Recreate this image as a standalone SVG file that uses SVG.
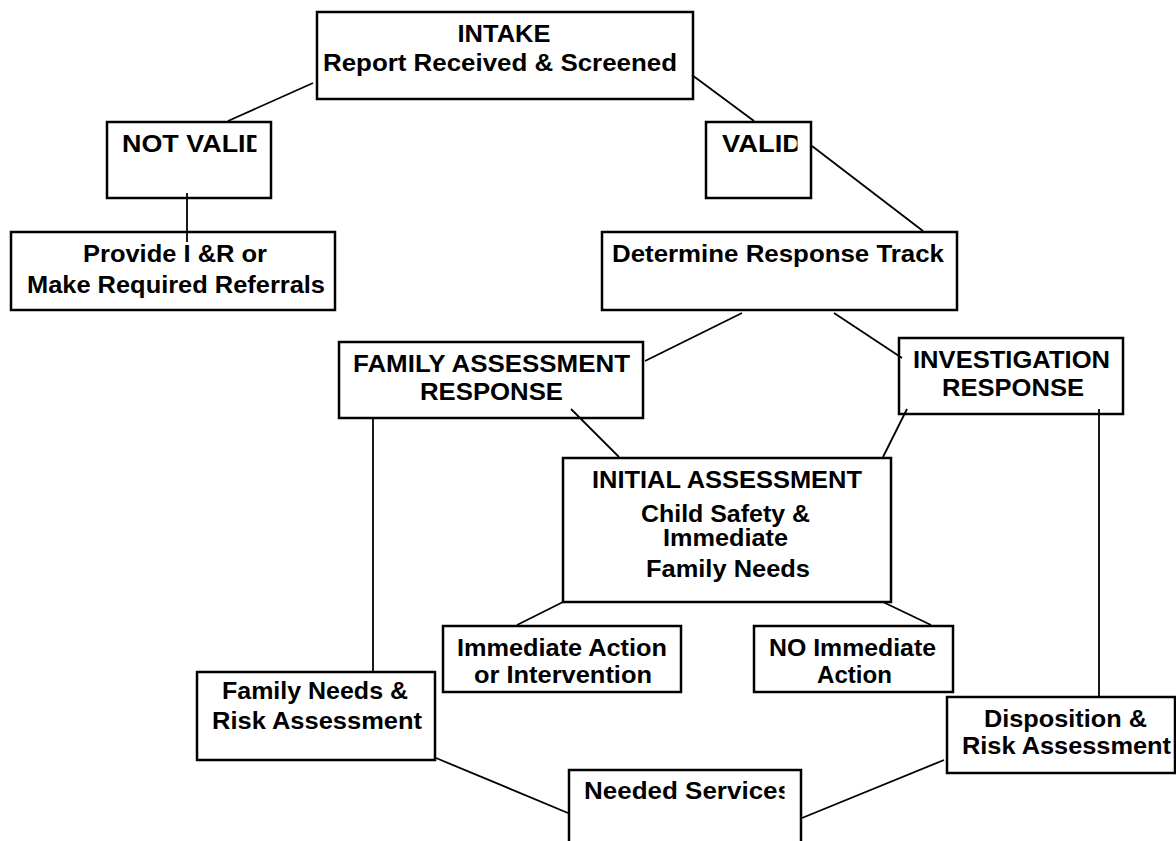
<svg xmlns="http://www.w3.org/2000/svg" width="1176" height="841" viewBox="0 0 1176 841">
<style>
.box{fill:#fff;stroke:#000;stroke-width:2.5}
.t{font-family:"Liberation Sans",Arial,sans-serif;font-weight:bold;font-size:23.5px;fill:#000}
.c{text-anchor:middle}
#connectors line{stroke:#000;stroke-width:1.8}
</style>
<defs>
<clipPath id="clipNV"><rect x="100" y="120" width="156.5" height="60"/></clipPath>
<clipPath id="clipV"><rect x="700" y="120" width="97.5" height="60"/></clipPath>
<clipPath id="clipNS"><rect x="570" y="772" width="214.5" height="60"/></clipPath>
</defs>
<g id="intake"><rect class="box" x="317" y="12" width="376" height="87"/>
<text class="t c" x="504" y="42" textLength="93" lengthAdjust="spacingAndGlyphs">INTAKE</text>
<text class="t" x="323" y="71" textLength="354" lengthAdjust="spacingAndGlyphs">Report Received &amp; Screened</text></g>
<g id="notvalid"><rect class="box" x="107" y="122" width="164" height="76"/>
<text class="t" x="122" y="152" textLength="143" lengthAdjust="spacingAndGlyphs" clip-path="url(#clipNV)">NOT VALID</text></g>
<g id="provide"><rect class="box" x="11" y="232" width="324" height="78"/>
<text class="t" x="83" y="262" textLength="184" lengthAdjust="spacingAndGlyphs">Provide I &amp;R or</text>
<text class="t" x="27" y="293" textLength="298" lengthAdjust="spacingAndGlyphs">Make Required Referrals</text></g>
<g id="valid"><rect class="box" x="706" y="122" width="105" height="76"/>
<text class="t" x="722" y="152" textLength="80" lengthAdjust="spacingAndGlyphs" clip-path="url(#clipV)">VALID</text></g>
<g id="determine"><rect class="box" x="602" y="232" width="355" height="78"/>
<text class="t" x="612" y="262" textLength="332" lengthAdjust="spacingAndGlyphs">Determine Response Track</text></g>
<g id="family-assessment"><rect class="box" x="339" y="342" width="304" height="76"/>
<text class="t" x="353" y="372" textLength="277" lengthAdjust="spacingAndGlyphs">FAMILY ASSESSMENT</text>
<text class="t" x="420" y="400" textLength="143" lengthAdjust="spacingAndGlyphs">RESPONSE</text></g>
<g id="investigation"><rect class="box" x="899" y="338" width="224" height="76"/>
<text class="t" x="913" y="368" textLength="197" lengthAdjust="spacingAndGlyphs">INVESTIGATION</text>
<text class="t" x="942" y="396" textLength="142" lengthAdjust="spacingAndGlyphs">RESPONSE</text></g>
<g id="initial"><rect class="box" x="563" y="458" width="328" height="144"/>
<text class="t" x="592" y="488" textLength="270" lengthAdjust="spacingAndGlyphs">INITIAL ASSESSMENT</text>
<text class="t" x="641" y="522" textLength="169" lengthAdjust="spacingAndGlyphs">Child Safety &amp;</text>
<text class="t" x="663" y="546" textLength="125" lengthAdjust="spacingAndGlyphs">Immediate</text>
<text class="t" x="646" y="577" textLength="164" lengthAdjust="spacingAndGlyphs">Family Needs</text></g>
<g id="family-needs"><rect class="box" x="197" y="672" width="238" height="88"/>
<text class="t" x="222" y="699" textLength="186" lengthAdjust="spacingAndGlyphs">Family Needs &amp;</text>
<text class="t" x="212" y="729" textLength="210" lengthAdjust="spacingAndGlyphs">Risk Assessment</text></g>
<g id="immediate-action"><rect class="box" x="443" y="626" width="238" height="66"/>
<text class="t" x="457" y="656" textLength="210" lengthAdjust="spacingAndGlyphs">Immediate Action</text>
<text class="t" x="474" y="683" textLength="178" lengthAdjust="spacingAndGlyphs">or Intervention</text></g>
<g id="no-immediate"><rect class="box" x="754" y="626" width="199" height="66"/>
<text class="t" x="769" y="656" textLength="167" lengthAdjust="spacingAndGlyphs">NO Immediate</text>
<text class="t" x="817" y="683" textLength="75" lengthAdjust="spacingAndGlyphs">Action</text></g>
<g id="disposition"><rect class="box" x="947" y="697" width="228" height="76"/>
<text class="t" x="984" y="727" textLength="163" lengthAdjust="spacingAndGlyphs">Disposition &amp;</text>
<text class="t" x="962" y="754" textLength="209" lengthAdjust="spacingAndGlyphs">Risk Assessment</text></g>
<g id="needed"><rect class="box" x="569" y="770" width="232" height="90"/>
<text class="t" x="584" y="799" textLength="208" lengthAdjust="spacingAndGlyphs" clip-path="url(#clipNS)">Needed Services</text></g>
<g id="connectors">
<line x1="313" y1="83" x2="228" y2="121"/>
<line x1="187" y1="193" x2="187" y2="242"/>
<line x1="692" y1="75" x2="754" y2="121"/>
<line x1="812" y1="146" x2="923" y2="231"/>
<line x1="742" y1="313" x2="645" y2="361"/>
<line x1="834" y1="313" x2="902" y2="358"/>
<line x1="571" y1="409" x2="619" y2="457"/>
<line x1="907" y1="409" x2="883" y2="457"/>
<line x1="373" y1="418" x2="373" y2="671"/>
<line x1="1099" y1="409" x2="1099" y2="697"/>
<line x1="563" y1="602" x2="517" y2="625"/>
<line x1="883" y1="602" x2="931" y2="625"/>
<line x1="436" y1="758" x2="568" y2="813"/>
<line x1="944" y1="760" x2="802" y2="818"/>
</g>
</svg>
